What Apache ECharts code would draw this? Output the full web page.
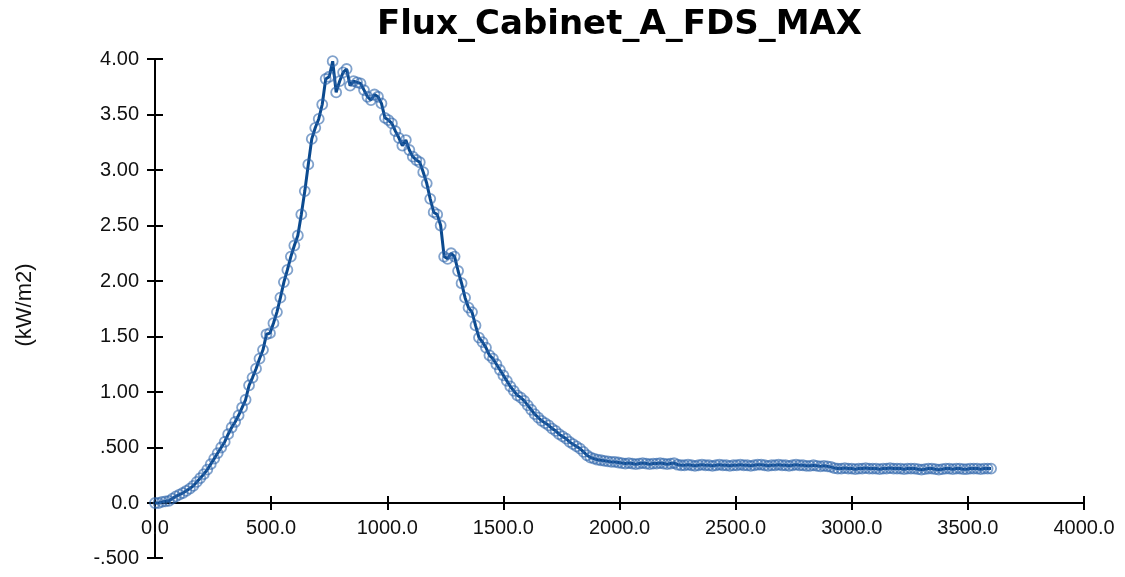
<!DOCTYPE html>
<html><head><meta charset="utf-8">
<script src="https://cdn.jsdelivr.net/npm/echarts@6/dist/echarts.min.js"></script>
<style>html,body{margin:0;padding:0;background:#fff}#c{width:1125px;height:577px}</style>
</head><body><div id="c"></div>
<script>
const titleText = 'Flux_Cabinet_A_FDS_MAX';
const yAxisName = '(kW/m2)';

const times = [
  0,15,30,45,60,75,90,105,120,135,
  150,165,180,195,210,225,240,255,270,285,
  300,315,330,345,360,375,390,405,420,435,
  450,465,480,495,510,525,540,555,570,585,
  600,615,630,645,660,675,690,705,720,735,
  750,765,780,795,810,825,840,855,870,885,
  900,915,930,945,960,975,990,1005,1020,1035,
  1050,1065,1080,1095,1110,1125,1140,1155,1170,1185,
  1200,1215,1230,1245,1260,1275,1290,1305,1320,1335,
  1350,1365,1380,1395,1410,1425,1440,1455,1470,1485,
  1500,1515,1530,1545,1560,1575,1590,1605,1620,1635,
  1650,1665,1680,1695,1710,1725,1740,1755,1770,1785,
  1800,1815,1830,1845,1860,1875,1890,1905,1920,1935,
  1950,1965,1980,1995,2010,2025,2040,2055,2070,2085,
  2100,2115,2130,2145,2160,2175,2190,2205,2220,2235,
  2250,2265,2280,2295,2310,2325,2340,2355,2370,2385,
  2400,2415,2430,2445,2460,2475,2490,2505,2520,2535,
  2550,2565,2580,2595,2610,2625,2640,2655,2670,2685,
  2700,2715,2730,2745,2760,2775,2790,2805,2820,2835,
  2850,2865,2880,2895,2910,2925,2940,2955,2970,2985,
  3000,3015,3030,3045,3060,3075,3090,3105,3120,3135,
  3150,3165,3180,3195,3210,3225,3240,3255,3270,3285,
  3300,3315,3330,3345,3360,3375,3390,3405,3420,3435,
  3450,3465,3480,3495,3510,3525,3540,3555,3570,3585,
  3600
];

const flux = [
  0.00,0.00,0.01,0.015,0.02,0.04,0.06,0.075,0.09,0.11,
  0.13,0.155,0.19,0.225,0.26,0.30,0.35,0.40,0.45,0.50,
  0.55,0.62,0.68,0.73,0.79,0.86,0.93,1.06,1.13,1.21,
  1.30,1.38,1.52,1.53,1.62,1.72,1.85,1.99,2.10,2.22,
  2.32,2.41,2.60,2.81,3.05,3.28,3.38,3.46,3.59,3.82,
  3.84,3.98,3.70,3.80,3.88,3.91,3.76,3.80,3.79,3.78,
  3.72,3.66,3.63,3.68,3.66,3.60,3.47,3.45,3.42,3.35,
  3.29,3.22,3.27,3.18,3.12,3.09,3.07,2.98,2.88,2.74,
  2.62,2.60,2.50,2.22,2.20,2.25,2.22,2.09,1.98,1.85,
  1.76,1.72,1.60,1.49,1.45,1.40,1.33,1.30,1.25,1.20,
  1.15,1.10,1.05,1.01,0.97,0.95,0.92,0.88,0.84,0.80,
  0.77,0.74,0.72,0.70,0.67,0.65,0.62,0.60,0.58,0.55,
  0.53,0.51,0.49,0.46,0.43,0.41,0.40,0.39,0.385,0.38,
  0.375,0.37,0.37,0.365,0.36,0.355,0.36,0.355,0.35,0.355,
  0.36,0.355,0.35,0.355,0.355,0.36,0.355,0.35,0.355,0.36,
  0.345,0.34,0.34,0.345,0.34,0.335,0.34,0.345,0.34,0.34,
  0.335,0.34,0.345,0.34,0.34,0.335,0.34,0.34,0.345,0.34,
  0.34,0.335,0.34,0.345,0.345,0.34,0.335,0.34,0.34,0.345,
  0.34,0.34,0.335,0.34,0.345,0.34,0.34,0.335,0.335,0.34,
  0.335,0.33,0.335,0.33,0.325,0.315,0.31,0.31,0.315,0.31,
  0.31,0.305,0.31,0.31,0.315,0.31,0.31,0.31,0.305,0.31,
  0.31,0.315,0.31,0.31,0.31,0.305,0.31,0.31,0.31,0.305,
  0.30,0.305,0.31,0.31,0.305,0.30,0.305,0.31,0.31,0.305,
  0.31,0.31,0.305,0.305,0.31,0.31,0.31,0.305,0.31,0.31,
  0.31
];

const xTickLabels = ['0.0','500.0','1000.0','1500.0','2000.0','2500.0','3000.0','3500.0','4000.0'];
const yTickLabels = ['-.500','0.0','.500','1.00','1.50','2.00','2.50','3.00','3.50','4.00'];

const FONT = 'Liberation Sans';
const chart = echarts.init(document.getElementById('c'), null, {renderer: 'canvas'});

const axisLineStyle = {color: '#000', width: 2};
const tickStyle = {color: '#000', width: 2};
const labelStyle = {fontFamily: FONT, fontSize: 20, color: '#111'};

function xAx(grid, show, inside) {
  return {
    type: 'value', gridIndex: grid, min: 0, max: 4000, interval: 500, position: 'bottom',
    splitLine: {show: false},
    axisLine: {show: show && !inside, onZero: false, lineStyle: axisLineStyle},
    axisTick: {show: show, inside: inside, length: 7, lineStyle: tickStyle},
    axisLabel: Object.assign({show: show && !inside, margin: 15, showMinLabel: true, showMaxLabel: true,
      formatter: v => xTickLabels[Math.round(v / 500)]}, labelStyle)
  };
}
function yAx(grid, min, max, inside, labelFilter) {
  return {
    type: 'value', gridIndex: grid, min: min, max: max, interval: 0.5, position: 'left',
    splitLine: {show: false},
    axisLine: {show: !inside, onZero: false, lineStyle: axisLineStyle},
    axisTick: {show: true, inside: inside, length: 8, lineStyle: tickStyle},
    axisLabel: Object.assign({show: !inside, margin: 16, showMinLabel: true, showMaxLabel: true,
      formatter: v => labelFilter(v) ? yTickLabels[Math.round((v + 0.5) / 0.5)] : ''}, labelStyle)
  };
}

const option = {
  animation: false,
  backgroundColor: '#fff',
  grid: [
    {left: 155, right: 41, top: 59, bottom: 74, containLabel: false},
    {left: 155, right: 41, top: 503, bottom: 19, containLabel: false}
  ],
  graphic: [{
    type: 'text', x: 619.5, y: 25,
    style: {text: titleText, align: 'center', verticalAlign: 'middle',
      font: 'bold 34px "DejaVu Sans"', fill: '#000'}
  }, {
    type: 'text', x: 25, y: 305, rotation: Math.PI / 2,
    style: {text: yAxisName, align: 'center', verticalAlign: 'middle',
      font: '22px "Liberation Sans"', fill: '#111'}
  }],
  xAxis: [
    xAx(0, true, false),
    xAx(0, true, true),
    xAx(1, false, false)
  ],
  yAxis: [
    yAx(0, 0, 4, false, v => true),
    yAx(0, 0, 4, true, v => true),
    yAx(1, -0.5, 0, false, v => v < -0.25),
    yAx(1, -0.5, 0, true, v => v < -0.25)
  ],
  series: [{
    type: 'line',
    xAxisIndex: 0, yAxisIndex: 0,
    data: times.map((t, i) => [t, flux[i]]),
    clip: false,
    symbol: 'circle', symbolSize: 10, showSymbol: true, showAllSymbol: true,
    itemStyle: {color: 'rgba(255,255,255,0)', borderColor: 'rgba(45,100,170,0.6)', borderWidth: 1.8},
    lineStyle: {color: '#0b4a8f', width: 3},
    z: 3
  }]
};
chart.setOption(option);
</script>
</body></html>
